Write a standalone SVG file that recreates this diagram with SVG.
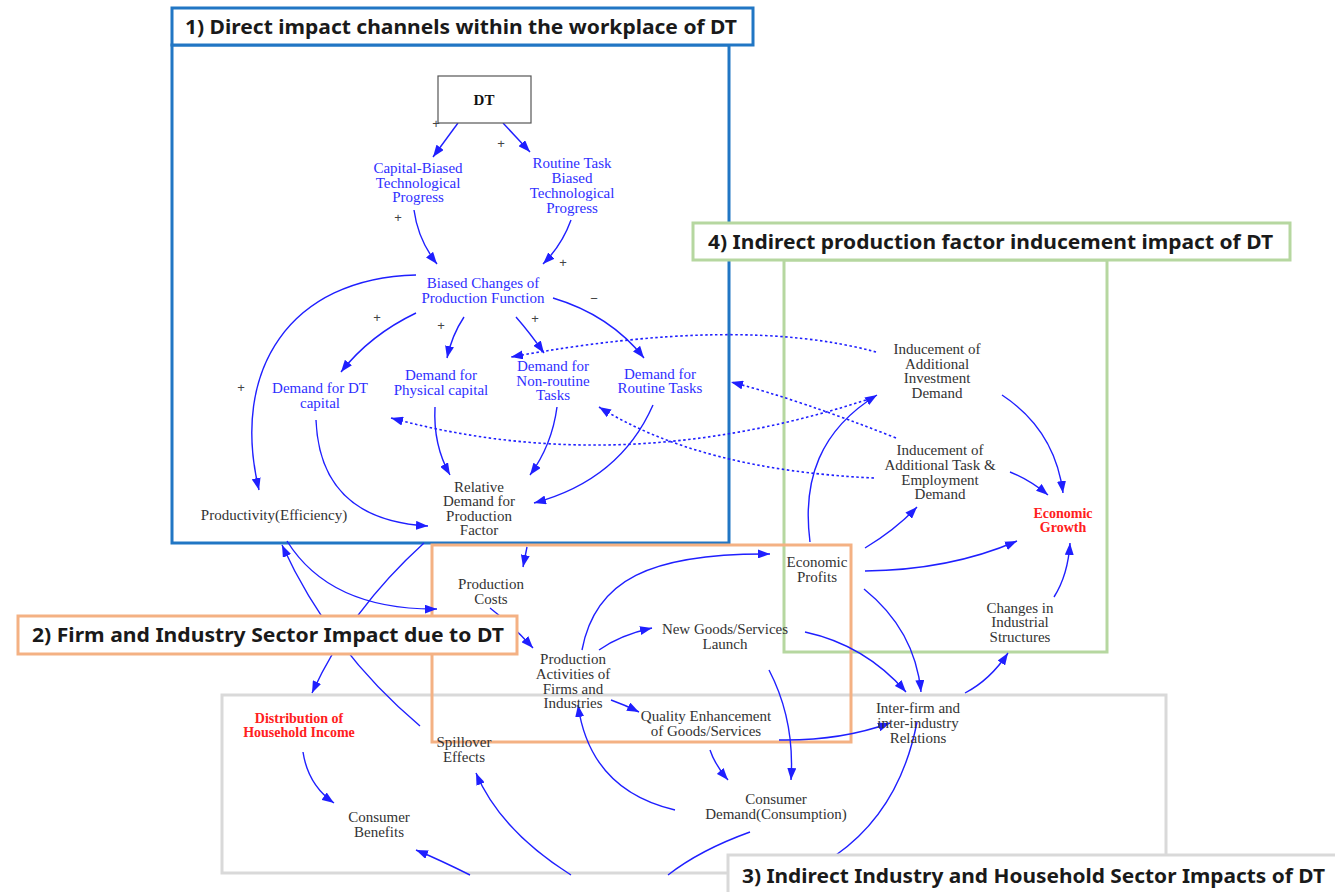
<svg xmlns="http://www.w3.org/2000/svg" width="1335" height="892" viewBox="0 0 1335 892">
  <defs>
    <marker id="arr" markerUnits="userSpaceOnUse" markerWidth="13" markerHeight="9" refX="12" refY="4.5" orient="auto">
      <path d="M0,0 L12,4.5 L0,9 z" fill="#1f1fff"/>
    </marker>
    <style>
      .frame { fill: none; stroke-width: 3; }
      .tbox { fill: #ffffff; stroke-width: 3; }
      .ttl { font-family: "Noto Sans", "Open Sans", sans-serif; font-weight: bold; font-size: 19px; fill: #1a1a1a; }
      .n { font-family: "Liberation Serif", "Times New Roman", serif; font-size: 15px; text-anchor: middle; fill: #333333; }
      .b { fill: #2f2fff; }
      .r { fill: #ff2020; font-weight: bold; font-size: 14px; }
      .sg { font-family: "Liberation Sans", sans-serif; font-size: 13px; fill: #444444; text-anchor: middle; }
      .c { fill: none; stroke: #1f1fff; stroke-width: 1.4; }
      .ca { marker-end: url(#arr); }
      .d { stroke-dasharray: 2.5 2.5; stroke-width: 1.6; }
    </style>
  </defs>
  <rect width="1335" height="892" fill="#ffffff"/>

  <!-- section frames -->
  <g id="frames">
    <rect class="frame" x="172" y="45" width="557" height="498" stroke="#2176c4"/>
    <rect class="frame" x="784" y="260" width="323" height="392" stroke="#b6d7a0"/>
    <rect class="frame" x="222" y="695" width="944" height="178" stroke="#d9d9d9"/>
    <rect class="frame" x="432" y="545" width="419" height="197" stroke="#f4b183"/>
  </g>

  <!-- causal links -->
  <g id="connectors">
    <path class="c ca" d="M458,123 L433,157"/>
    <path class="c ca" d="M503,123 L530,152"/>
    <path class="c ca" d="M414,210 Q418,240 437,264"/>
    <path class="c ca" d="M571,220 Q562,245 543,264"/>
    <path class="c ca" d="M416,275 C290,278 230,370 259,490"/>
    <path class="c ca" d="M416,313 Q370,335 341,372"/>
    <path class="c ca" d="M464,317 Q452,335 447,358"/>
    <path class="c ca" d="M516,317 Q530,333 544,353"/>
    <path class="c ca" d="M553,298 Q610,315 644,358"/>
    <path class="c ca" d="M316,420 Q320,520 428,526"/>
    <path class="c ca" d="M435,407 Q433,445 450,475"/>
    <path class="c ca" d="M557,407 Q552,445 530,475"/>
    <path class="c ca" d="M653,405 Q620,480 534,503"/>

    <path class="c ca d" d="M876,352 Q740,315 511,357"/>
    <path class="c ca d" d="M866,400 Q620,480 391,418"/>
    <path class="c ca d" d="M896,438 Q800,400 731,382"/>
    <path class="c ca d" d="M874,478 Q700,470 599,407"/>

    <path class="c ca" d="M1002,395 Q1055,430 1063,493"/>
    <path class="c ca" d="M1010,472 Q1030,480 1048,495"/>
    <path class="c ca" d="M865,548 Q895,530 917,507"/>
    <path class="c ca" d="M810,542 C802,480 820,430 877,395"/>
    <path class="c ca" d="M865,571 Q950,570 1017,541"/>
    <path class="c ca" d="M1054,597 Q1068,575 1070,543"/>
    <path class="c ca" d="M864,589 Q915,630 921,692"/>
    <path class="c ca" d="M805,632 Q865,645 906,692"/>
    <path class="c ca" d="M965,693 Q990,680 1008,653"/>
    <path class="c ca" d="M779,740 Q840,741 890,723"/>
    <path class="c ca" d="M769,670 Q795,720 791,780"/>
    <path class="c ca" d="M710,750 Q715,765 728,780"/>
    <path class="c" d="M750,832 Q700,850 668,875"/>
    <path class="c" d="M836,855 Q900,810 917,722"/>

    <path class="c ca" d="M582,650 C595,580 650,553 770,554"/>
    <path class="c ca" d="M599,650 Q620,635 652,628"/>
    <path class="c ca" d="M611,700 Q625,705 639,712"/>
    <path class="c ca" d="M675,810 Q590,790 578,705"/>
    <path class="c ca" d="M527,547 L523,567"/>
    <path class="c ca" d="M490,608 Q512,625 533,648"/>

    <path class="c ca" d="M287,541 Q330,610 437,609"/>
    <path class="c ca" d="M420,726 Q330,650 282,545"/>
    <path class="c ca" d="M424,543 Q350,610 312,693"/>
    <path class="c ca" d="M303,752 Q308,785 334,803"/>
    <path class="c ca" d="M470,875 Q440,860 416,850"/>
    <path class="c ca" d="M571,875 Q500,830 476,773"/>
  </g>

  <!-- link polarity -->
  <g id="polarity">
    <text class="sg" x="436" y="128">+</text>
    <text class="sg" x="501" y="148">+</text>
    <text class="sg" x="398" y="222">+</text>
    <text class="sg" x="563" y="267">+</text>
    <text class="sg" x="594" y="303">−</text>
    <text class="sg" x="377" y="322">+</text>
    <text class="sg" x="441" y="330">+</text>
    <text class="sg" x="535" y="323">+</text>
    <text class="sg" x="241" y="392">+</text>
  </g>

  <g id="dt">
    <rect x="438" y="76" width="93" height="47" fill="#ffffff" stroke="#555555" stroke-width="1.2"/>
    <text class="n" x="484" y="105" style="font-weight:bold;fill:#111111">DT</text>
  </g>
  <g id="capital-biased">
    <text class="n b" x="418" y="173">Capital-Biased</text>
    <text class="n b" x="418" y="188">Technological</text>
    <text class="n b" x="418" y="202">Progress</text>
  </g>
  <g id="routine-biased">
    <text class="n b" x="572" y="168">Routine Task</text>
    <text class="n b" x="572" y="183">Biased</text>
    <text class="n b" x="572" y="198">Technological</text>
    <text class="n b" x="572" y="213">Progress</text>
  </g>
  <g id="biased-changes">
    <text class="n b" x="483" y="288">Biased Changes of</text>
    <text class="n b" x="483" y="303">Production Function</text>
  </g>
  <g id="demand-dt-capital">
    <text class="n b" x="320" y="393">Demand for DT</text>
    <text class="n b" x="320" y="408">capital</text>
  </g>
  <g id="demand-physical">
    <text class="n b" x="441" y="380">Demand for</text>
    <text class="n b" x="441" y="395">Physical capital</text>
  </g>
  <g id="demand-nonroutine">
    <text class="n b" x="553" y="371">Demand for</text>
    <text class="n b" x="553" y="386">Non-routine</text>
    <text class="n b" x="553" y="400">Tasks</text>
  </g>
  <g id="demand-routine">
    <text class="n b" x="660" y="379">Demand for</text>
    <text class="n b" x="660" y="393">Routine Tasks</text>
  </g>
  <g id="relative-demand">
    <text class="n" x="479" y="492">Relative</text>
    <text class="n" x="479" y="506">Demand for</text>
    <text class="n" x="479" y="521">Production</text>
    <text class="n" x="479" y="535">Factor</text>
  </g>
  <g id="productivity">
    <text class="n" x="274" y="520">Productivity(Efficiency)</text>
  </g>
  <g id="inducement-investment">
    <text class="n" x="937" y="354">Inducement of</text>
    <text class="n" x="937" y="369">Additional</text>
    <text class="n" x="937" y="383">Investment</text>
    <text class="n" x="937" y="398">Demand</text>
  </g>
  <g id="inducement-task">
    <text class="n" x="940" y="455">Inducement of</text>
    <text class="n" x="940" y="470">Additional Task &amp;</text>
    <text class="n" x="940" y="485">Employment</text>
    <text class="n" x="940" y="499">Demand</text>
  </g>
  <g id="economic-growth">
    <text class="n r" x="1063" y="518">Economic</text>
    <text class="n r" x="1063" y="532">Growth</text>
  </g>
  <g id="economic-profits">
    <text class="n" x="817" y="567">Economic</text>
    <text class="n" x="817" y="582">Profits</text>
  </g>
  <g id="industrial-structures">
    <text class="n" x="1020" y="613">Changes in</text>
    <text class="n" x="1020" y="627">Industrial</text>
    <text class="n" x="1020" y="642">Structures</text>
  </g>
  <g id="production-costs">
    <text class="n" x="491" y="589">Production</text>
    <text class="n" x="491" y="604">Costs</text>
  </g>
  <g id="new-goods">
    <text class="n" x="725" y="634">New Goods/Services</text>
    <text class="n" x="725" y="649">Launch</text>
  </g>
  <g id="production-activities">
    <text class="n" x="573" y="664">Production</text>
    <text class="n" x="573" y="679">Activities of</text>
    <text class="n" x="573" y="694">Firms and</text>
    <text class="n" x="573" y="708">Industries</text>
  </g>
  <g id="quality">
    <text class="n" x="706" y="721">Quality Enhancement</text>
    <text class="n" x="706" y="736">of Goods/Services</text>
  </g>
  <g id="inter-firm">
    <text class="n" x="918" y="713">Inter-firm and</text>
    <text class="n" x="918" y="728">inter-industry</text>
    <text class="n" x="918" y="743">Relations</text>
  </g>
  <g id="household-income">
    <text class="n r" x="299" y="723">Distribution of</text>
    <text class="n r" x="299" y="737">Household Income</text>
  </g>
  <g id="spillover">
    <text class="n" x="464" y="747">Spillover</text>
    <text class="n" x="464" y="762">Effects</text>
  </g>
  <g id="consumer-benefits">
    <text class="n" x="379" y="822">Consumer</text>
    <text class="n" x="379" y="837">Benefits</text>
  </g>
  <g id="consumer-demand">
    <text class="n" x="776" y="804">Consumer</text>
    <text class="n" x="776" y="819">Demand(Consumption)</text>
  </g>

  <!-- section titles -->
  <g id="title-1">
    <rect class="tbox" x="172" y="8" width="581" height="37" stroke="#2176c4"/>
    <text class="ttl" x="185" y="34" textLength="552" lengthAdjust="spacingAndGlyphs">1) Direct impact channels within the workplace of DT</text>
  </g>
  <g id="title-4">
    <rect class="tbox" x="693" y="223" width="597" height="37" stroke="#b6d7a0"/>
    <text class="ttl" x="708" y="249" textLength="565" lengthAdjust="spacingAndGlyphs">4) Indirect production factor inducement impact of DT</text>
  </g>
  <g id="title-2">
    <rect class="tbox" x="18" y="616" width="499" height="38" stroke="#f4b183"/>
    <text class="ttl" x="32" y="642" textLength="472" lengthAdjust="spacingAndGlyphs">2) Firm and Industry Sector Impact due to DT</text>
  </g>
  <g id="title-3">
    <rect class="tbox" x="728" y="855" width="612" height="42" stroke="#d9d9d9"/>
    <text class="ttl" x="742" y="883" textLength="583" lengthAdjust="spacingAndGlyphs">3) Indirect Industry and Household Sector Impacts of DT</text>
  </g>
</svg>
